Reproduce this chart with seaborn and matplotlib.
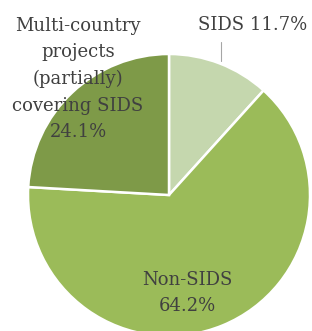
import matplotlib.pyplot as plt
import seaborn as sns

labels = ['SIDS', 'Non-SIDS', 'Multi-country projects (partially) covering SIDS']
shares = [11.7, 64.2, 24.1]
colors = ['#c5d7ae', '#9bbb59', '#7e9a48']

sns.set_style('white')
plt.rcParams['font.family'] = ['DejaVu Serif']

fig = plt.figure(figsize=(3.12, 3.31), dpi=100)
ax = fig.add_axes([0, 0, 1, 1])

ax.pie(shares, colors=colors, startangle=90, counterclock=False,
       wedgeprops=dict(edgecolor='white', linewidth=1.8))

# pie centre sits at (169, 195) px with radius 141 px
cx, cy, s = 169.0, 195.0, 141.0
ax.set_aspect('auto')
ax.set_xlim(-cx / s, (312 - cx) / s)
ax.set_ylim(-(331 - cy) / s, cy / s)
ax.axis('off')


def px(x, y):
    return (x - cx) / s, (cy - y) / s


txt = '#404040'
fs = 13
ax.text(*px(253, 25), f'SIDS {shares[0]}%', ha='center', va='center',
        fontsize=fs, color=txt)
x0, y0 = px(221, 42)
x1, y1 = px(221, 61)
ax.plot([x0, x1], [y0, y1], color='#a6a6a6', linewidth=0.8)
ax.text(*px(78, 79), f'Multi-country\nprojects\n(partially)\ncovering SIDS\n{shares[2]}%',
        ha='center', va='center', fontsize=fs, color=txt, linespacing=1.6)
ax.text(*px(187, 293), f'Non-SIDS\n{shares[1]}%', ha='center', va='center',
        fontsize=fs, color=txt, linespacing=1.6)

fig.savefig('out.png', dpi=100)
